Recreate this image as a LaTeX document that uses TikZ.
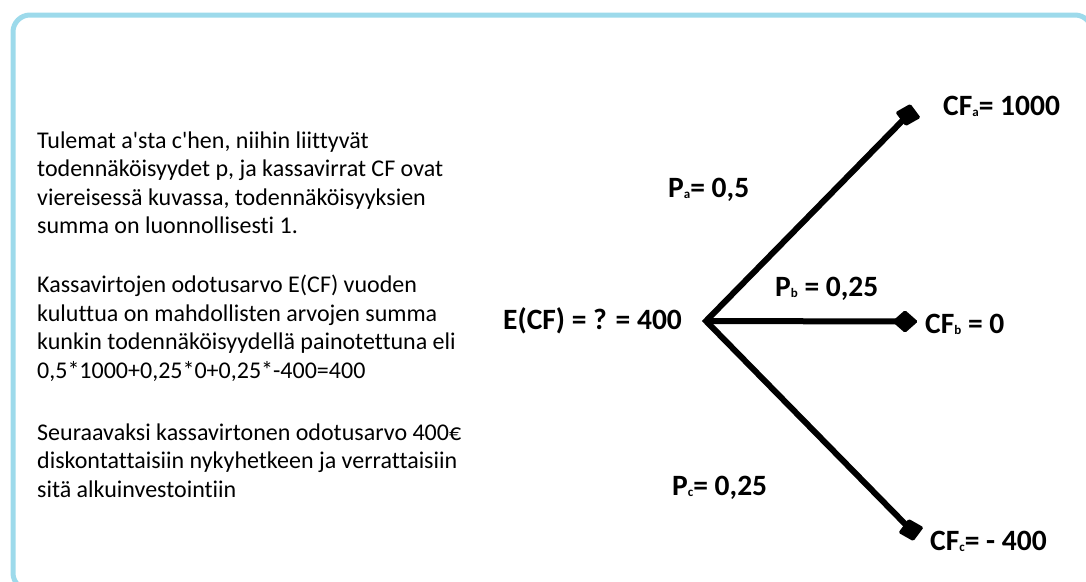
\documentclass[tikz,border=0pt]{standalone}
\usepackage{fontspec}
\setmainfont{Carlito}[Ligatures={TeXOff,CommonOff}]
\usetikzlibrary{shapes.geometric}
\definecolor{framecol}{HTML}{9DDAEB}
\newcommand{\sbs}[1]{\raisebox{-1pt}{\fontsize{13}{13}\selectfont #1}}
\begin{document}
\begin{tikzpicture}[x=1pt,y=-1pt,
  branch/.style={line width=6pt},
  endmark/.style={diamond,fill=black,inner sep=0pt,minimum width=26pt,minimum height=23pt,rounded corners=1.5pt},
  lbl/.style={anchor=base west,inner sep=0pt,font=\fontsize{29.5}{31}\selectfont\bfseries},
  para/.style={anchor=base west,inner sep=0pt,font=\fontsize{24}{28.6}\selectfont}]
\useasboundingbox (0,0) rectangle (1086,581);
\begin{scope}
\clip (0,0) rectangle (1086,581);
\draw[framecol,line width=5pt,rounded corners=17pt] (13,15) rectangle (1092,590);
\end{scope}

\node[para] (p1) at (37,148) {\vtop{\baselineskip=28.6pt
  \hbox{Tulemat a'sta c'hen, niihin liittyvät}
  \hbox{todennäköisyydet p, ja kassavirrat CF ovat}
  \hbox{viereisessä kuvassa, todennäköisyyksien}
  \hbox{summa on luonnollisesti 1.}}};
\node[para] (p2) at (37,292.7) {\vtop{\baselineskip=28.6pt
  \hbox{Kassavirtojen odotusarvo E(CF) vuoden}
  \hbox{kuluttua on mahdollisten arvojen summa}
  \hbox{kunkin todennäköisyydellä painotettuna eli}
  \hbox{0,5*1000+0,25*0+0,25*-400=400}}};
\node[para] (p3) at (37,440) {\vtop{\baselineskip=28.6pt
  \hbox{Seuraavaksi kassavirtonen odotusarvo 400€}
  \hbox{diskontattaisiin nykyhetkeen ja verrattaisiin}
  \hbox{sitä alkuinvestointiin}}};

\coordinate (root) at (706,321);
\node[endmark,rotate=-12] (ea) at (908,115) {};
\node[endmark] (eb) at (905,321.5) {};
\node[endmark,rotate=12] (ec) at (911,530) {};
\draw[branch] (ea.center) -- (root) -- (ec.center);
\draw[branch] (root) -- (eb.center);

\node[lbl] (ecf) at (503,329) {E(CF) = ? = 400};
\node[lbl] (cfa) at (943,115) {CF\sbs{a}= 1000};
\node[lbl] (cfb) at (925,333) {CF\sbs{b} = 0};
\node[lbl] (cfc) at (930,550) {CF\sbs{c}= - 400};
\node[lbl] (pa) at (668,197) {P\sbs{a}= 0,5};
\node[lbl] (pb) at (775,296) {P\sbs{b} = 0,25};
\node[lbl] (pc) at (672,495) {P\sbs{c}= 0,25};
\end{tikzpicture}
\end{document}
